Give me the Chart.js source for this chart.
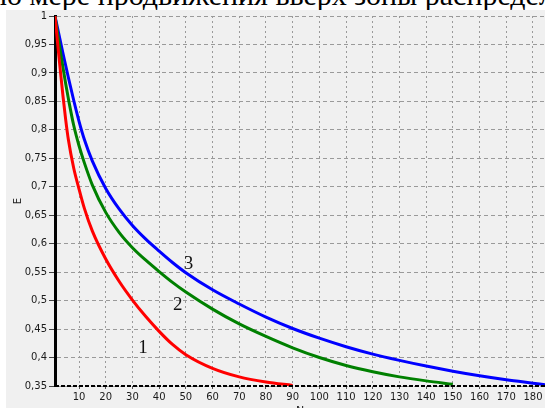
<!DOCTYPE html>
<html>
<head>
<meta charset="utf-8">
<script src="https://cdn.jsdelivr.net/npm/chart.js@4.4.1/dist/chart.umd.min.js"></script>
<style>
  html, body { margin: 0; padding: 0; background: #fff; overflow: hidden; width: 545px; height: 408px; }
  #caption { position: absolute; left: -9px; top: -20px; font-family: "Liberation Serif", serif; font-size: 30px; line-height: 30px; white-space: nowrap; color: #000; }
  #wrap { position: absolute; left: 6px; top: 10px; width: 539px; height: 414px; background: #f0f0f0; }
  #chart { position: absolute; left: 0; top: -2px; }
</style>
</head>
<body>
<div id="caption">по мере продвижения вверх зоны распределения</div>
<div id="wrap"><canvas id="chart"></canvas></div>
<script>
// x values shared by all three curves
const xs = [1, 2, 3, 4, 5, 6, 8, 10, 12, 15, 20, 25, 30, 35, 40, 45, 50, 60, 70, 80, 90,
            100, 110, 120, 130, 140, 150, 160, 170, 180, 185];
const curve1 = [1.0, 0.951, 0.904, 0.859, 0.818, 0.783, 0.733, 0.696, 0.662, 0.622, 0.573, 0.534,
                0.501, 0.472, 0.446, 0.423, 0.405, 0.381, 0.366, 0.357, 0.351,
                null, null, null, null, null, null, null, null, null, null];
const curve2 = [1.0, 0.968, 0.938, 0.909, 0.881, 0.855, 0.808, 0.772, 0.742, 0.703, 0.655, 0.62,
                0.593, 0.571, 0.551, 0.532, 0.515, 0.485, 0.459, 0.437, 0.417,
                0.4, 0.386, 0.375, 0.366, 0.359, 0.353, null, null, null, null];
const curve3 = [1.0, 0.978, 0.956, 0.934, 0.913, 0.892, 0.852, 0.815, 0.783, 0.745, 0.697, 0.661,
                0.632, 0.608, 0.587, 0.567, 0.549, 0.519, 0.494, 0.471, 0.451,
                0.434, 0.419, 0.406, 0.395, 0.385, 0.376, 0.368, 0.361, 0.355, 0.352];

const xTicks = [10, 20, 30, 40, 50, 60, 70, 80, 90, 100, 110, 120, 130, 140, 150, 160, 170, 180];

// curve numbers written on the plot
const curveNames = ['1', '2', '3'];
const nameX = [34, 47, 51];
const nameY = [0.416, 0.4925, 0.5635];

const colors = ['#ff0000', '#008000', '#0000ff'];

function pts(ys) {
    return xs.map((x, i) => ({x: x, y: ys[i]}));
}

const curveNumbers = {
    id: 'curveNumbers',
    afterDatasetsDraw(chart) {
        const ctx = chart.ctx;
        const sx = chart.scales.x, sy = chart.scales.y;
        const area = chart.chartArea;
        ctx.save();
        // dashed black bottom axis
        ctx.strokeStyle = '#000';
        ctx.lineWidth = 2;
        ctx.setLineDash([4, 2]);
        ctx.beginPath();
        ctx.moveTo(area.left, area.bottom);
        ctx.lineTo(area.right, area.bottom);
        ctx.stroke();
        ctx.setLineDash([]);
        ctx.font = '19px "Liberation Serif"';
        ctx.fillStyle = '#111';
        ctx.textAlign = 'center';
        ctx.textBaseline = 'middle';
        curveNames.forEach((t, i) => {
            ctx.fillText(t, sx.getPixelForValue(nameX[i]), sy.getPixelForValue(nameY[i]));
        });
        ctx.restore();
    }
};

let data = {
    datasets: [curve1, curve2, curve3].map((c, i) => ({
        label: curveNames[i],
        data: pts(c),
        borderColor: colors[i],
        borderWidth: 3,
        pointRadius: 0,
        cubicInterpolationMode: 'monotone',
        spanGaps: false
    }))
};

const tickFont = {family: 'DejaVu Sans', size: 10};

let config = {
    type: 'line',
    data: data,
    options: {
        responsive: false,
        animation: false,
        layout: {padding: {left: 0, top: 1, right: 0, bottom: 0}},
        plugins: {legend: {display: false}, tooltip: {enabled: false}},
        scales: {
            x: {
                type: 'linear',
                min: 1,
                max: 184.5,
                afterBuildTicks: s => { s.ticks = xTicks.map(v => ({value: v})); },
                afterFit: s => { s.height = 36; },
                ticks: {font: tickFont, color: '#1a1a1a', padding: 2, maxRotation: 0, autoSkip: false},
                grid: {color: '#9a9a9a', lineWidth: 1, tickLength: 3, tickColor: '#555', tickBorderDash: []},
                border: {display: false, dash: [2, 3]},
                title: {display: true, text: 'N', font: {family: 'DejaVu Sans', size: 11}, color: '#222', padding: {top: 0, bottom: 4}}
            },
            y: {
                min: 0.35,
                max: 1,
                afterFit: s => { s.width = 49; },
                ticks: {
                    stepSize: 0.05,
                    font: tickFont,
                    color: '#1a1a1a',
                    padding: 2,
                    callback: v => String(Math.round(v * 100) / 100).replace('.', ',')
                },
                grid: {color: '#9a9a9a', lineWidth: 1, tickLength: 6, tickColor: '#444', tickBorderDash: []},
                border: {color: '#000', width: 3, dash: [4, 3]},
                title: {display: true, text: 'E', font: {family: 'DejaVu Sans', size: 10}, color: '#222', padding: {top: 6, bottom: 0}}
            }
        }
    },
    plugins: [curveNumbers]
};

const canvas = document.getElementById('chart');
canvas.width = 539;
canvas.height = 414;
new Chart(canvas, config);
</script>
</body>
</html>
